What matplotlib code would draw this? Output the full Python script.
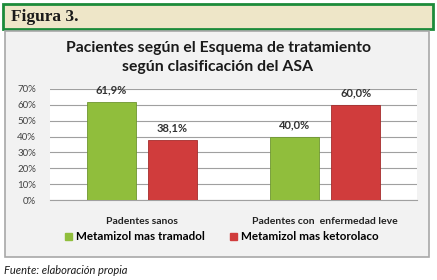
"""
Figura 3 - Pacientes segun esquema de tratamiento y clasificacion ASA
"""
import matplotlib
matplotlib.use("Agg")
import matplotlib.pyplot as plt
import matplotlib.patches as mpatches
import numpy as np

categories = ["Padentes sanos", "Padentes con  enfermedad leve"]
series_names = ["Metamizol mas tramadol", "Metamizol mas ketorolaco"]
tramadol = [61.9, 40.0]
ketorolaco = [38.1, 60.0]
yticks = [0, 10, 20, 30, 40, 50, 60, 70]

GREEN = '#90BE3C'
RED = '#D03C3C'

plt.rcParams['font.family'] = ['Lato', 'DejaVu Sans']

W, H = 437, 280
fig = plt.figure(figsize=(W / 100, H / 100), dpi=100)
fig.patch.set_facecolor('white')

def px(x0, y0, x1, y1):
    # pixel box (top-left origin) -> figure fraction rect
    return (x0 / W, 1 - y1 / H, (x1 - x0) / W, (y1 - y0) / H)

# header box
x, y, w, h = px(3, 4, 433, 29)
fig.patches.append(mpatches.Rectangle((x, y), w, h, transform=fig.transFigure, zorder=-2,
                                      facecolor='#EEE6C8', edgecolor='#1C8B3A', linewidth=2))
fig.text(11 / W, 1 - 17 / H, "Figura 3.", family='Liberation Serif', fontweight='bold',
         fontsize=12.5, va='center', ha='left', color='#1A1A1A')

# chart box
x, y, w, h = px(5, 31, 429, 257)
fig.patches.append(mpatches.Rectangle((x, y), w, h, transform=fig.transFigure, zorder=-2,
                                      facecolor='#F2F2F2', edgecolor='#A8A8A8', linewidth=1.2))

fig.text(218 / W, 1 - 48 / H, "Pacientes según el Esquema de tratamiento",
         fontweight='bold', fontsize=11.3, ha='center', va='center', color='#1A1A1A')
fig.text(218 / W, 1 - 67 / H, "según clasificación del ASA",
         fontweight='bold', fontsize=11.3, ha='center', va='center', color='#1A1A1A')

ax = fig.add_axes(px(50, 89, 417, 200))
ax.set_zorder(1)
ax.set_facecolor('white')

xpos = np.arange(len(categories))
bw = 0.267
off = 0.166
b1 = ax.bar(xpos - off, tramadol, bw, color=GREEN, edgecolor='#6E9630', linewidth=0.6, zorder=3)
b2 = ax.bar(xpos + off, ketorolaco, bw, color=RED, edgecolor='#A52C2C', linewidth=0.6, zorder=3)

for bars in (b1, b2):
    for rect in bars:
        v = rect.get_height()
        ax.text(rect.get_x() + rect.get_width() / 2, v + 7.6, f"{v:.1f}%".replace('.', ','),
                ha='center', va='center', fontsize=8, fontweight='bold', color='#333333')

ax.set_xlim(-0.5, 1.5)
ax.set_ylim(0, 70)
ax.set_yticks(yticks)
ax.set_yticklabels([f"{t}%" for t in yticks], fontsize=7, color='#444444')
ax.set_xticks(xpos)
ax.set_xticklabels(categories, fontsize=7.5, fontweight='bold', color='#222222')
ax.tick_params(axis='x', length=0, pad=12)
ax.tick_params(axis='y', length=0, pad=10)
ax.yaxis.grid(True, color='#A0A0A0', linewidth=0.8, zorder=0)
ax.set_axisbelow(True)
for s in ('top', 'right', 'left'):
    ax.spines[s].set_visible(False)
ax.spines['bottom'].set_color('#A0A0A0')

handles = [mpatches.Patch(color=GREEN, label=series_names[0]),
           mpatches.Patch(color=RED, label=series_names[1])]
leg = fig.legend(handles=handles, loc='center', bbox_to_anchor=(222 / W, 1 - 237 / H), ncol=2,
                 frameon=False, fontsize=8.4, handlelength=0.6, handleheight=0.6,
                 handletextpad=0.3, columnspacing=2.2)
for t in leg.get_texts():
    t.set_fontweight('bold')

fig.text(4 / W, 1 - 270 / H, "Fuente: elaboración propia", fontstyle='italic',
         fontsize=8, ha='left', va='center', color='#1A1A1A')

plt.savefig('out.png', dpi=100, facecolor='white')
